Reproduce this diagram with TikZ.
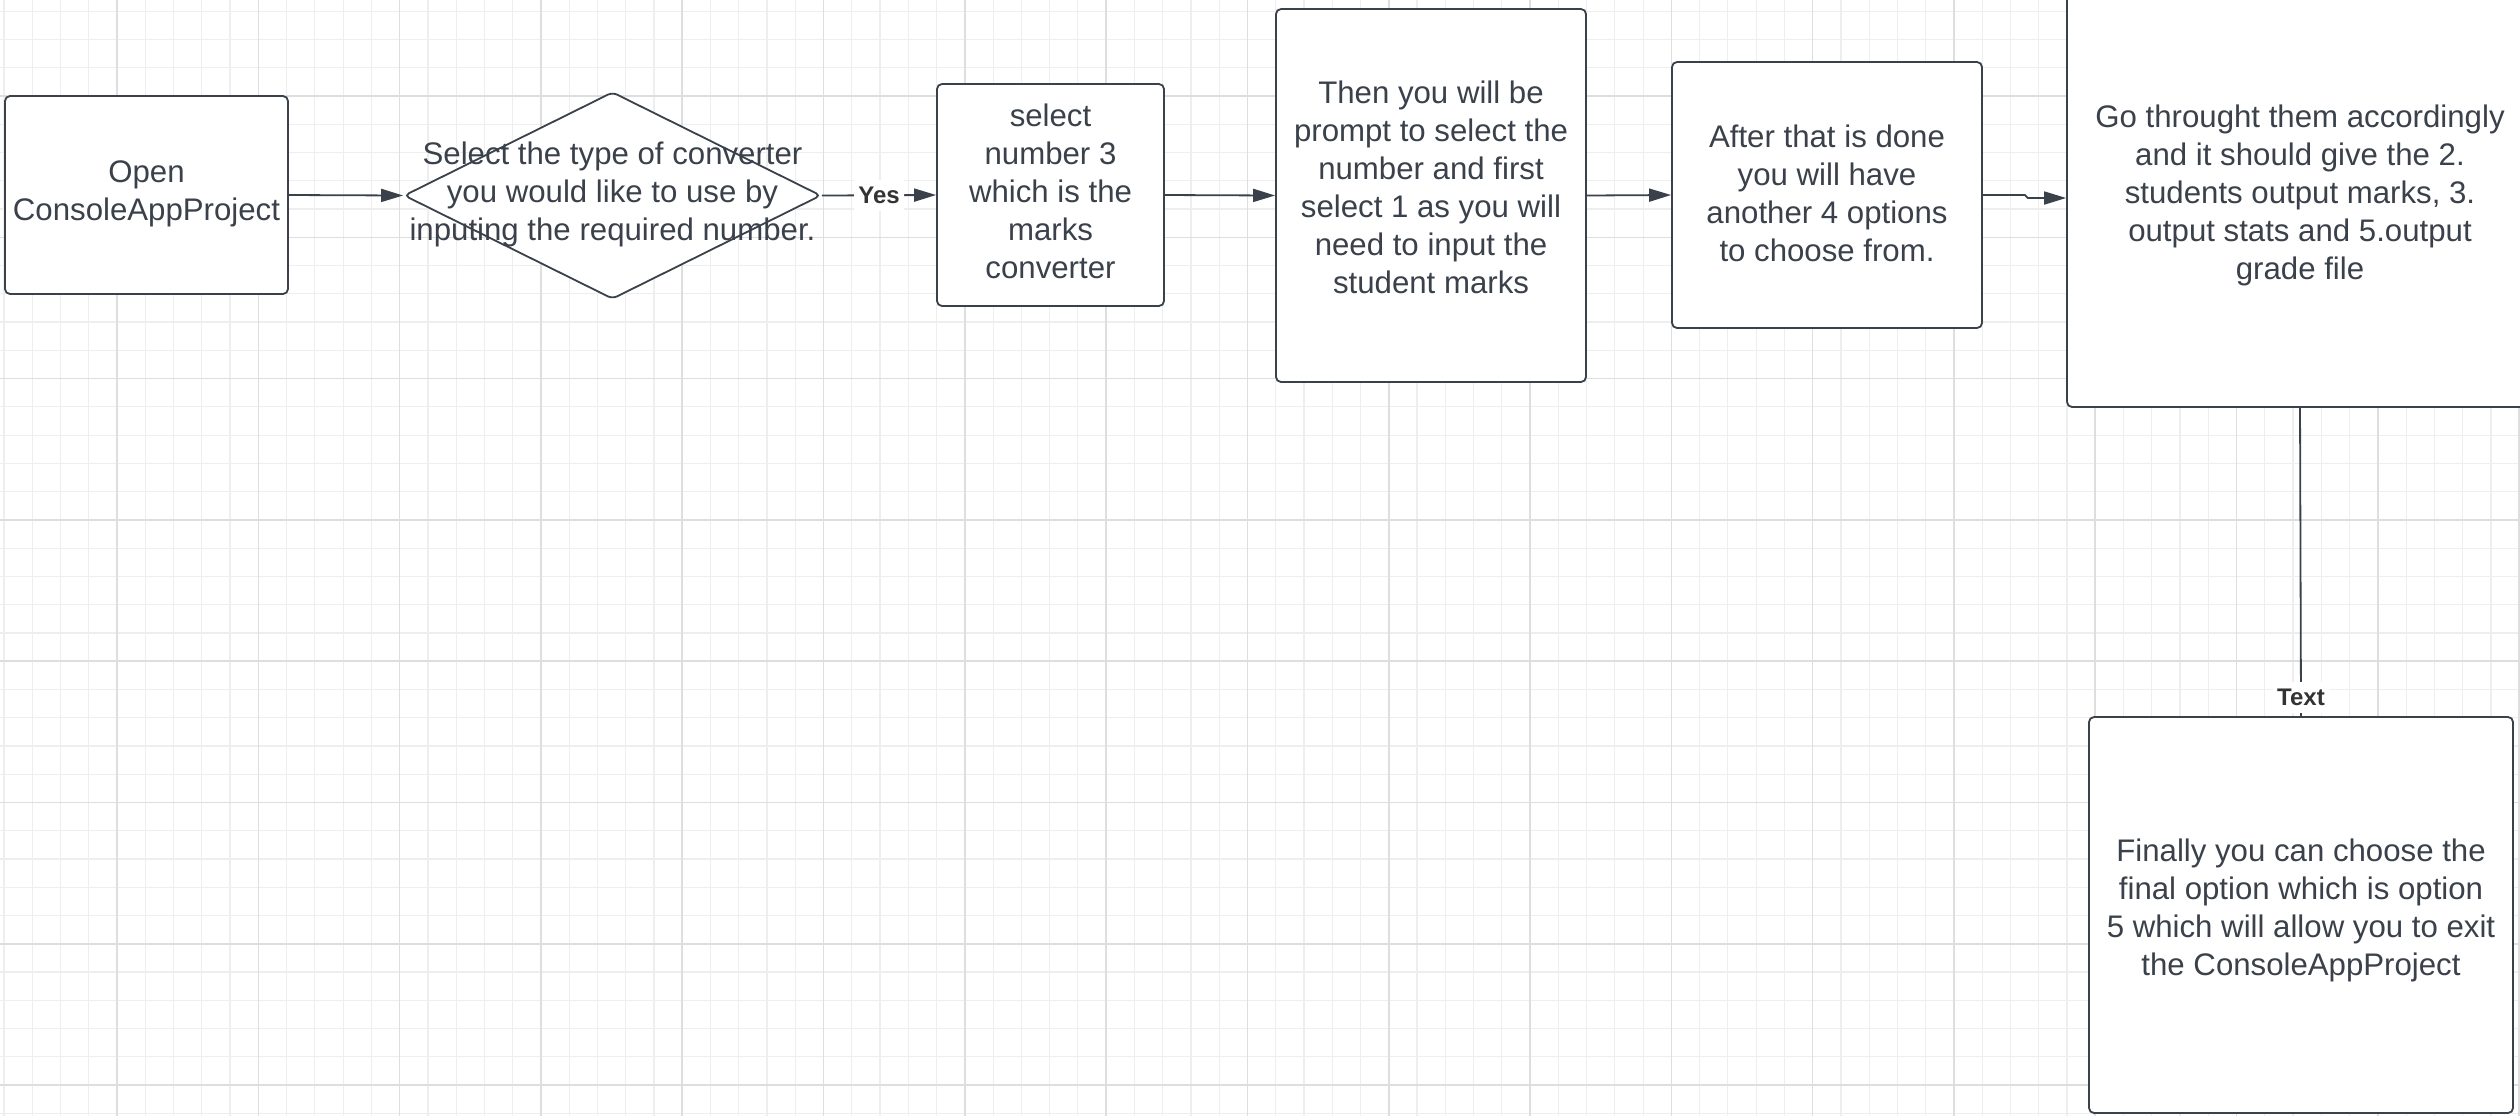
\documentclass[tikz,border=0pt]{standalone}
\usepackage{fontspec}
\setmainfont{Liberation Sans}
\usetikzlibrary{arrows.meta,shapes.geometric}
\definecolor{ink}{HTML}{3A414A}
\definecolor{gridminor}{HTML}{EEEEEE}
\definecolor{gridmajor}{HTML}{DEDEDE}
\definecolor{labelink}{HTML}{333333}

\begin{document}
\begin{tikzpicture}[x=0.5pt,y=-0.5pt,
  bodyfont/.style={font=\fontsize{15.6pt}{19pt}\selectfont},
  stepbox/.style={draw=ink, line width=0.9pt, rounded corners=2.5pt, fill=white,
    inner sep=0pt},
  decision/.style={diamond, draw=ink, line width=0.9pt, rounded corners=2.5pt,
    fill=white, inner sep=0pt},
  steptext/.style={text=ink, align=center, inner sep=0pt, bodyfont},
  flow/.style={draw=ink, line width=0.9pt, -{Triangle[length=11pt,width=6.5pt]}},
  plainlink/.style={draw=ink, line width=0.9pt},
  linklabel/.style={fill=white, text=labelink, inner xsep=2pt, inner ysep=3.5pt,
    font=\fontsize{12pt}{14pt}\selectfont\bfseries}
]
% canvas
\useasboundingbox (0,0) rectangle (2520,1116);
\clip (0,0) rectangle (2520,1116);
\fill[white] (0,0) rectangle (2520,1116);

% background grid
\foreach \i in {0,...,89}
  \draw[gridminor, line width=0.6pt] ({4+28.26*\i},0) -- ({4+28.26*\i},1116);
\foreach \j in {0,...,39}
  \draw[gridminor, line width=0.6pt] (0,{11.2+28.26*\j}) -- (2520,{11.2+28.26*\j});
\foreach \i in {0,...,17}
  \draw[gridmajor, line width=0.8pt] ({117+141.3*\i},0) -- ({117+141.3*\i},1116);
\foreach \j in {0,...,7}
  \draw[gridmajor, line width=0.8pt] (0,{96+141.3*\j}) -- (2520,{96+141.3*\j});

% steps (text carried as a centred label so it can sit slightly off centre)
\node[stepbox, minimum width=141.5pt, minimum height=99pt,
  label={[steptext, yshift=0.75pt]center:{Open\\ConsoleAppProject}}] (open) at (146.5,195) {};

\node[decision, minimum width=208.5pt, minimum height=103.5pt,
  label={[steptext, yshift=0.75pt]center:{Select the type of converter\\you would like to use by\\inputing the required number.}}] (choose) at (612.5,195.5) {};

\node[stepbox, minimum width=113.5pt, minimum height=111pt,
  label={[steptext, yshift=2pt]center:{select\\number 3\\which is the\\marks\\converter}}] (marks) at (1050.5,195) {};

\node[stepbox, minimum width=155pt, minimum height=186.5pt,
  label={[steptext, yshift=4pt]center:{Then you will be\\prompt to select the\\number and first\\select 1 as you will\\need to input the\\student marks}}] (prompt) at (1431,195.5) {};

\node[stepbox, minimum width=155pt, minimum height=133pt,
  label={[steptext, yshift=1pt]center:{After that is done\\you will have\\another 4 options\\to choose from.}}] (options) at (1827,195) {};

\node[stepbox, minimum width=233pt, minimum height=212pt,
  label={[steptext]center:{Go throught them accordingly\\and it should give the 2.\\students output marks, 3.\\output stats and 5.output\\grade file}}] (outputs) at (2300,195) {};

\node[stepbox, minimum width=212pt, minimum height=198pt,
  label={[steptext, yshift=2.5pt]center:{Finally you can choose the\\final option which is option\\5 which will allow you to exit\\the ConsoleAppProject}}] (finish) at (2301,915) {};

% connectors
\draw[flow] (open.east) -- (choose.west);
\draw[flow] (choose.east) -- node[linklabel] (yes) {Yes} (marks.west);
\draw[flow] (marks.east) -- (prompt.west);
\draw[flow] (prompt.east) -- (options.west);
\draw[flow] (options.east) -- ++(42,0) -- ++(3,3) -- ([yshift=-1.5pt]outputs.west);
\draw[plainlink] (outputs.south) -- node[linklabel, pos=0.94] (textlabel) {Text} (finish.north);
\end{tikzpicture}
\end{document}
